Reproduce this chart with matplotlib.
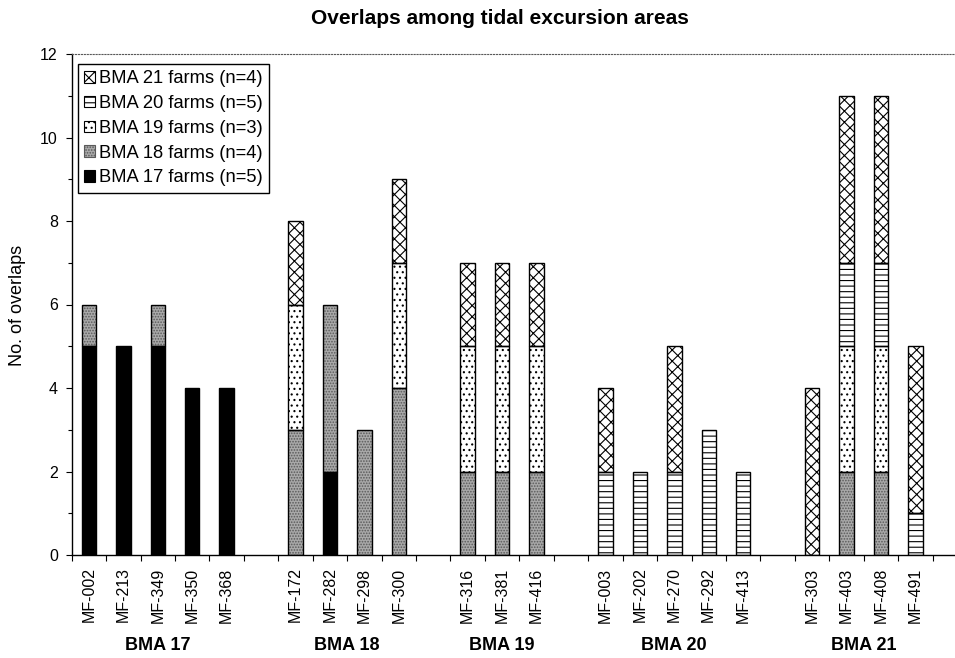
import numpy as np
import matplotlib
matplotlib.use("Agg")
import matplotlib.pyplot as plt
import matplotlib.patches as mpatches
from matplotlib.ticker import MultipleLocator

plt.rcParams["font.family"] = ["Liberation Sans", "DejaVu Sans"]
plt.rcParams["hatch.linewidth"] = 0.8

# Farms grouped by BMA
groups = ["BMA 17", "BMA 18", "BMA 19", "BMA 20", "BMA 21"]
farms_17 = ["MF-002", "MF-213", "MF-349", "MF-350", "MF-368"]
farms_18 = ["MF-172", "MF-282", "MF-298", "MF-300"]
farms_19 = ["MF-316", "MF-381", "MF-416"]
farms_20 = ["MF-003", "MF-202", "MF-270", "MF-292", "MF-413"]
farms_21 = ["MF-303", "MF-403", "MF-408", "MF-491"]
farm_groups = [farms_17, farms_18, farms_19, farms_20, farms_21]

# Overlap counts per farm, split by the BMA of the overlapping farms
bma17 = [5, 5, 5, 4, 4,  0, 2, 0, 0,  0, 0, 0,  0, 0, 0, 0, 0,  0, 0, 0, 0]
bma18 = [1, 0, 1, 0, 0,  3, 4, 3, 4,  2, 2, 2,  0, 0, 0, 0, 0,  0, 2, 2, 0]
bma19 = [0, 0, 0, 0, 0,  3, 0, 0, 3,  3, 3, 3,  0, 0, 0, 0, 0,  0, 3, 3, 0]
bma20 = [0, 0, 0, 0, 0,  0, 0, 0, 0,  0, 0, 0,  2, 2, 2, 3, 2,  0, 2, 2, 1]
bma21 = [0, 0, 0, 0, 0,  2, 0, 0, 2,  2, 2, 2,  2, 0, 3, 0, 0,  4, 4, 4, 4]

series_labels = ["BMA 17 farms (n=5)", "BMA 18 farms (n=4)", "BMA 19 farms (n=3)",
                 "BMA 20 farms (n=5)", "BMA 21 farms (n=4)"]
series = [bma17, bma18, bma19, bma20, bma21]

# fill colour, hatch, hatch colour for each series
styles = [
    ("black", None, "black"),
    ("#a9a9a9", "......", "#5a5a5a"),
    ("white", "...", "black"),
    ("white", "---", "black"),
    ("white", "xxx", "black"),
]

# slot positions: one empty slot between groups
positions, labels, group_centres = [], [], []
slot = 0
for fg in farm_groups:
    start = slot
    for f in fg:
        positions.append(slot)
        labels.append(f)
        slot += 1
    group_centres.append((start + slot - 1) / 2)
    slot += 1
positions = np.array(positions, dtype=float)
n_slots = slot - 1

W, H = 955, 658
fig = plt.figure(figsize=(W / 100, H / 100), dpi=100)
ax_left, ax_right, ax_top, ax_bottom = 71.7, 967.0, 54.0, 555.0
ax = fig.add_axes([ax_left / W, 1 - ax_bottom / H,
                   (ax_right - ax_left) / W, (ax_bottom - ax_top) / H])

bar_w = 0.42
bottom = np.zeros(len(positions))
for vals, (fc, hatch, hc) in zip(series, styles):
    v = np.array(vals, dtype=float)
    m = v > 0
    ax.bar(positions[m], v[m], bar_w, bottom=bottom[m], color=fc,
           hatch=hatch, edgecolor=hc, linewidth=0, zorder=2)
    ax.bar(positions[m], v[m], bar_w, bottom=bottom[m], fill=False,
           edgecolor="black", linewidth=1.0, zorder=3)
    bottom += v

ax.set_xlim(-0.5, n_slots + 0.5)
ax.set_ylim(0, 12)

ax.set_xticks(positions)
ax.set_xticklabels(labels, rotation=90, fontsize=11.5)
ax.tick_params(axis="x", which="major", length=0, pad=9)
ax.set_xticks(np.arange(-0.5, n_slots + 1.0, 1.0), minor=True)
ax.tick_params(axis="x", which="minor", length=4, width=0.8, direction="out")

ax.yaxis.set_major_locator(MultipleLocator(2))
ax.yaxis.set_minor_locator(MultipleLocator(1))
ax.tick_params(axis="y", which="major", length=4, width=0.8, labelsize=11.5, pad=6)
ax.tick_params(axis="y", which="minor", length=3, width=0.8)

for s in ("left", "bottom"):
    ax.spines[s].set_linewidth(1.0)
ax.spines["right"].set_visible(False)
ax.spines["top"].set_linestyle(":")
ax.spines["top"].set_linewidth(0.8)
ax.spines["top"].set_color("0.35")

for g, c in zip(groups, group_centres):
    ax.text(c, -0.18, g, transform=ax.get_xaxis_transform(), ha="center",
            va="center", fontsize=13, fontweight="bold")

fig.text(500 / W, 1 - 18 / H, "Overlaps among tidal excursion areas",
         ha="center", va="center", fontsize=15, fontweight="bold")
fig.text(17 / W, 1 - 305 / H, "No. of overlaps", rotation=90,
         ha="center", va="center", fontsize=13)

handles = []
for (fc, hatch, hc) in styles:
    handles.append(mpatches.Patch(facecolor=fc, hatch=hatch,
                                  edgecolor="black" if hatch != "......" else hc,
                                  linewidth=0.8))
leg = ax.legend(handles[::-1], series_labels[::-1], loc="upper left",
                bbox_to_anchor=(78 / W, 1 - 64 / H),
                bbox_transform=fig.transFigure, borderaxespad=0,
                fontsize=13.2, frameon=True, fancybox=False, framealpha=1,
                handlelength=0.6, handleheight=0.6, handletextpad=0.2,
                labelspacing=0.42, borderpad=0.35)
leg.get_frame().set_edgecolor("black")
leg.get_frame().set_linewidth(1.0)

fig.savefig("out.png", dpi=100)
